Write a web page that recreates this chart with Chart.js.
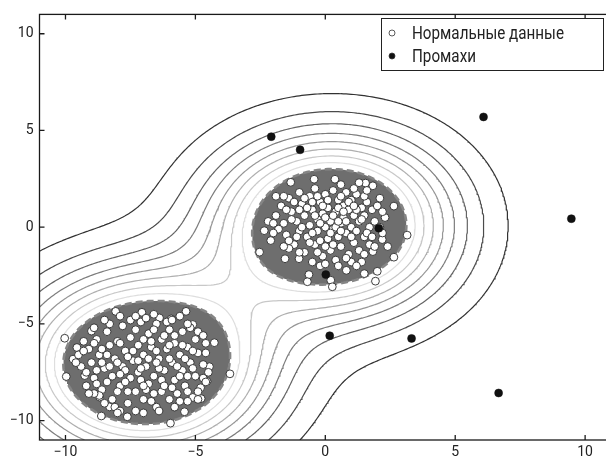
<!DOCTYPE html>
<html>
<head>
<meta charset="utf-8">
<script src="https://cdn.jsdelivr.net/npm/chart.js@4/dist/chart.umd.min.js"></script>
<style>
  html, body { margin: 0; padding: 0; background: #fff; overflow: hidden; }
</style>
</head>
<body>
<canvas id="chart" width="616" height="457"></canvas>
<script>
// ticks
const xTicks = [-10, -5, 0, 5, 10];
const yTicks = [-10, -5, 0, 5, 10];
const seriesLabels = ['Нормальные данные', 'Промахи'];

// normal points, upper cluster
const normalA = [
  [-2.53,-1.29],[-2.35,-0.18],[-1.33,2.32],[-0.43,2.48],[0.37,2.48],[1.55,2.28],[1.83,2.14],[2.64,1.09],
  [3.15,-0.41],[2.19,-0.64],[2.64,-1.55],[1.83,-1.26],[2.0,-2.28],[1.93,-2.79],[0.81,-2.23],[0.21,-2.74],
  [0.27,-3.08],[-0.63,-2.45],[-0.69,-2.82],[-1.55,-1.63],[-1.01,-1.63],[-2.1,-0.69],
  [-2.2,0.3],[-1.9,1.6],[2.3,0.5],[2.1,1.5],[1.4,-1.8],[-0.2,-2.0],
  [-1.9,0.6],[-1.7,1.1],[-1.6,0.2],[-1.5,-0.4],[-1.4,1.5],[-1.3,0.8],[-1.2,-0.9],[-1.1,0.3],
  [-1.0,1.8],[-1.0,-0.2],[-0.9,1.2],[-0.8,0.6],[-0.8,-1.3],[-0.7,-0.5],[-0.6,1.6],[-0.6,0.1],
  [-0.5,0.9],[-0.4,-0.9],[-0.4,2.0],[-0.3,0.4],[-0.3,-0.2],[-0.2,1.3],[-0.1,-1.5],[-0.1,0.7],
  [0.0,0.0],[0.0,1.7],[0.1,-0.6],[0.1,1.0],[0.2,0.3],[0.2,-1.2],[0.3,1.9],[0.3,-0.1],
  [0.4,0.8],[0.4,-1.7],[0.5,1.4],[0.5,-0.5],[0.6,0.2],[0.6,-1.0],[0.7,1.1],[0.7,0.5],
  [0.8,-0.3],[0.8,1.8],[0.9,-1.4],[0.9,0.9],[1.0,0.0],[1.0,1.4],[1.1,-0.8],[1.1,0.6],
  [1.2,1.7],[1.2,-0.2],[1.3,0.3],[1.3,-1.2],[1.4,1.0],[1.5,-0.5],[1.5,0.6],[1.6,1.3],
  [1.7,0.0],[1.7,-0.9],[1.8,0.9],[1.9,0.3],[-1.8,-0.1],[-1.5,0.9],[-1.2,1.3],[-1.1,-0.5],
  [-0.9,0.0],[-0.7,1.0],[-0.5,-0.3],[-0.5,1.3],[-0.2,0.2],[-0.2,-0.7],[0.0,0.5],[0.1,1.4],
  [0.3,0.6],[0.4,0.0],[0.5,1.0],[0.6,-0.2],[0.8,0.3],[0.9,1.3],[1.0,-0.5],[1.2,0.9],
  [-1.3,0.4],[-0.8,1.5],[-0.4,0.6],[0.2,-0.3],[0.7,0.8],[1.4,0.4],[-1.0,0.9],[-0.1,1.1],
  [0.5,0.3],[1.1,1.1],[-0.6,-0.8],[0.3,-0.9],[-1.6,1.6],[-0.3,1.6],[0.6,1.6],[1.5,1.6],
  [-1.4,-1.1],[0.0,-1.0],[1.6,-0.3],[-2.0,0.2],
  [0.6,2.2],[1.1,2.0],[1.6,1.9],[2.0,1.1],[2.1,0.0],[2.2,-0.3],[1.9,-1.0],[1.5,-1.4],
  [1.0,-1.8],[0.5,-2.0],[0.0,-1.9],[-0.5,-1.8],[-1.0,-1.3],[-1.4,-0.7],[-2.0,-0.3],[-1.6,-1.0],
  [-0.3,-1.3],[0.8,-1.6],[1.8,-0.5],[2.2,0.8],[1.3,2.3],[1.2,-2.0],[2.4,-1.0],[1.5,-2.4]
];

// normal points, lower-left cluster
const normalB = [
  [-10.03,-5.74],[-9.97,-7.72],[-3.67,-7.58],[-8.07,-4.35],[-7.06,-4.4],[-5.36,-4.35],[-4.27,-5.97],[-4.46,-7.21],
  [-4.55,-7.97],[-4.78,-8.86],[-5.42,-9.54],[-5.96,-10.13],[-7.62,-9.8],[-8.62,-9.76],[-9.56,-6.22],[-9.71,-6.82],
  [-9.26,-7.67],[-9.0,-5.37],[-8.69,-8.78],[-8.3,-9.29],[-6.38,-4.69],[-5.93,-4.74],[-5.1,-5.03],
  [-9.1,-6.3],[-9.0,-7.0],[-8.9,-7.8],[-8.8,-5.8],[-8.7,-6.6],[-8.6,-8.4],[-8.5,-7.3],[-8.4,-5.4],
  [-8.3,-6.1],[-8.2,-8.9],[-8.2,-7.7],[-8.1,-6.8],[-8.0,-5.9],[-7.9,-8.2],[-7.8,-7.2],[-7.8,-5.1],
  [-7.7,-6.4],[-7.6,-9.1],[-7.5,-7.8],[-7.5,-5.7],[-7.4,-6.9],[-7.3,-8.5],[-7.2,-6.1],[-7.2,-7.5],
  [-7.1,-4.9],[-7.0,-8.9],[-7.0,-6.6],[-6.9,-7.2],[-6.8,-5.5],[-6.8,-8.1],[-6.7,-6.2],[-6.6,-7.7],
  [-6.5,-9.3],[-6.5,-5.0],[-6.4,-6.8],[-6.3,-8.5],[-6.3,-5.8],[-6.2,-7.4],[-6.1,-6.3],[-6.0,-8.9],
  [-6.0,-5.3],[-5.9,-7.0],[-5.8,-7.9],[-5.8,-6.0],[-5.7,-8.6],[-5.6,-6.6],[-5.5,-5.4],[-5.5,-7.4],
  [-5.4,-8.2],[-5.3,-6.2],[-5.2,-7.0],[-5.1,-8.8],[-5.0,-5.8],[-5.0,-7.7],[-4.9,-6.5],[-4.8,-8.3],
  [-4.7,-7.1],[-4.6,-6.0],[-9.2,-7.5],[-8.9,-6.0],[-8.6,-7.0],[-8.4,-8.0],[-8.0,-7.0],[-7.9,-6.0],
  [-7.6,-8.5],[-7.4,-6.4],[-7.1,-7.9],[-7.0,-5.8],[-6.8,-6.8],[-6.6,-8.6],[-6.4,-7.3],[-6.2,-5.6],
  [-6.0,-6.8],[-5.9,-8.3],[-5.7,-7.2],[-5.5,-6.1],[-5.3,-7.7],[-5.1,-6.4],[-8.7,-8.7],[-8.1,-9.3],
  [-7.3,-9.5],[-6.7,-9.0],[-8.3,-5.0],[-7.5,-4.8],[-6.1,-4.9],[-5.2,-5.2],[-4.9,-8.9],[-4.7,-7.8],
  [-7.7,-7.4],[-7.2,-6.9],[-6.5,-6.4],[-6.3,-7.9],[-7.9,-7.6],[-8.8,-7.4],[-6.9,-8.4],[-5.6,-9.0],
  [-9.5,-6.6],[-9.4,-7.2],[-9.3,-5.9],[-9.2,-8.2],[-8.9,-5.2],[-8.9,-8.6],[-8.5,-4.8],[-8.5,-9.1],
  [-7.9,-4.6],[-7.9,-9.5],[-7.3,-4.6],[-7.0,-9.6],[-6.6,-4.5],[-6.4,-9.5],[-5.9,-4.8],[-5.8,-9.3],
  [-5.3,-5.0],[-5.3,-9.0],[-4.9,-5.4],[-4.9,-8.5],[-4.6,-6.5],[-4.5,-7.5],[-4.6,-8.0],[-9.6,-7.0],
  [-9.3,-6.4],[-9.1,-8.6],[-8.0,-9.6],[-6.9,-4.7],[-5.6,-4.6],[-4.7,-5.6],
  [-8.6,-6.3],[-8.3,-7.2],[-8.0,-8.5],[-7.6,-6.7],[-7.3,-5.3],[-7.1,-7.3],[-6.7,-5.9],[-6.5,-7.0],
  [-6.2,-8.2],[-6.0,-6.1],[-5.6,-7.7],[-5.4,-6.8],[-5.1,-7.3],[-8.8,-8.1],[-8.4,-6.6],[-7.7,-8.0],
  [-7.0,-8.2],[-6.6,-5.3],[-5.8,-5.6],[-5.3,-8.5]
];

// outliers
const outliers = [
  [-2.08,4.68],[-0.97,4.0],[6.09,5.7],[9.47,0.44],[2.06,-0.05],
  [0.02,-2.45],[0.17,-5.61],[3.32,-5.75],[6.67,-8.57]
];

// decision surface settings
const kernelGamma = 0.07;
const boundaryFrac = 0.60;
const levelCount = 9;
const lineGrays = [50, 75, 100, 125, 150, 175, 200, 222];

// evaluate kernel sum on a grid
const lo = -11, step = 0.1, n = 221;
const normal = normalA.concat(normalB);
const Z = new Float64Array(n * n);
let zmax = 0;
for (let j = 0; j < n; j++) {
  const y = lo + j * step;
  for (let i = 0; i < n; i++) {
    const x = lo + i * step;
    let s = 0;
    for (const p of normal) {
      const dx = x - p[0], dy = y - p[1];
      s += Math.exp(-kernelGamma * (dx * dx + dy * dy));
    }
    Z[j * n + i] = s;
    if (s > zmax) zmax = s;
  }
}

// marching squares, joined into polylines
function contour(L) {
  const pts = {}, adj = {};
  function edge(t, i, j) {
    const k = t + i + '_' + j;
    if (!pts[k]) {
      const xa = lo + i * step, ya = lo + j * step;
      const a = Z[j * n + i];
      const b = t === 'h' ? Z[j * n + i + 1] : Z[(j + 1) * n + i];
      const f = (L - a) / (b - a);
      pts[k] = t === 'h' ? { x: xa + step * f, y: ya } : { x: xa, y: ya + step * f };
    }
    return k;
  }
  function seg(k1, k2) {
    (adj[k1] = adj[k1] || []).push(k2);
    (adj[k2] = adj[k2] || []).push(k1);
  }
  for (let j = 0; j < n - 1; j++) {
    for (let i = 0; i < n - 1; i++) {
      const v0 = Z[j * n + i], v1 = Z[j * n + i + 1], v2 = Z[(j + 1) * n + i + 1], v3 = Z[(j + 1) * n + i];
      const c = (v0 > L ? 1 : 0) | (v1 > L ? 2 : 0) | (v2 > L ? 4 : 0) | (v3 > L ? 8 : 0);
      if (c === 0 || c === 15) continue;
      const e0 = () => edge('h', i, j), e1 = () => edge('v', i + 1, j);
      const e2 = () => edge('h', i, j + 1), e3 = () => edge('v', i, j);
      const mid = (v0 + v1 + v2 + v3) / 4 > L;
      switch (c) {
        case 1: case 14: seg(e3(), e0()); break;
        case 2: case 13: seg(e0(), e1()); break;
        case 3: case 12: seg(e3(), e1()); break;
        case 4: case 11: seg(e1(), e2()); break;
        case 6: case 9: seg(e0(), e2()); break;
        case 7: case 8: seg(e3(), e2()); break;
        case 5: if (mid) { seg(e0(), e1()); seg(e2(), e3()); } else { seg(e3(), e0()); seg(e1(), e2()); } break;
        case 10: if (mid) { seg(e3(), e0()); seg(e1(), e2()); } else { seg(e0(), e1()); seg(e2(), e3()); } break;
      }
    }
  }
  const used = new Set(), lines = [];
  function walk(s) {
    const line = [pts[s]];
    used.add(s);
    let cur = s;
    for (;;) {
      const nx = adj[cur].find(q => !used.has(q));
      if (nx === undefined) {
        if (line.length > 2 && adj[cur].includes(s)) line.push(pts[s]);
        break;
      }
      used.add(nx);
      line.push(pts[nx]);
      cur = nx;
    }
    lines.push(line);
  }
  for (const k in adj) if (adj[k].length === 1 && !used.has(k)) walk(k);
  for (const k in adj) if (!used.has(k)) walk(k);
  return lines;
}

const threshold = boundaryFrac * zmax;
const datasets = [];

contour(threshold).forEach(line => {
  datasets.push({
    data: line, showLine: true, fill: 'shape', backgroundColor: '#6e6e6e',
    borderWidth: 0, pointRadius: 0, order: 30
  });
  datasets.push({
    data: line, showLine: true, fill: false, borderColor: '#858585', borderWidth: 2.6,
    borderDash: [7, 4], pointRadius: 0, order: 10
  });
});

for (let k = 1; k < levelCount; k++) {
  const g = lineGrays[k - 1];
  contour(threshold * k / levelCount).forEach(line => {
    datasets.push({
      data: line, showLine: true, fill: false, borderColor: `rgb(${g},${g},${g})`,
      borderWidth: 1.2, pointRadius: 0, order: 20
    });
  });
}

datasets.push({
  label: seriesLabels[0],
  data: normal.map(p => ({ x: p[0], y: p[1] })),
  pointRadius: 3.9, pointBackgroundColor: '#fff', pointBorderColor: '#2a2a2a', pointBorderWidth: 0.9,
  order: 2
});
datasets.push({
  label: seriesLabels[1],
  data: outliers.map(p => ({ x: p[0], y: p[1] })),
  pointRadius: 4, pointBackgroundColor: '#111', pointBorderColor: '#111', pointBorderWidth: 0.5,
  order: 1
});

const minus = v => String(v).replace('-', '\u2212');

const frame = {
  id: 'frame',
  afterDraw(chart) {
    const { ctx, chartArea: a, scales: { x, y } } = chart;
    ctx.save();
    ctx.strokeStyle = '#1a1a1a';
    ctx.lineWidth = 1.3;
    ctx.strokeRect(a.left, a.top, a.right - a.left, a.bottom - a.top);
    ctx.beginPath();
    xTicks.forEach(v => {
      const px = x.getPixelForValue(v);
      ctx.moveTo(px, a.bottom); ctx.lineTo(px, a.bottom - 5);
      ctx.moveTo(px, a.top); ctx.lineTo(px, a.top + 5);
    });
    yTicks.forEach(v => {
      const py = y.getPixelForValue(v);
      ctx.moveTo(a.left, py); ctx.lineTo(a.left + 5, py);
      ctx.moveTo(a.right, py); ctx.lineTo(a.right - 5, py);
    });
    ctx.stroke();

    // legend
    ctx.fillStyle = '#fff';
    ctx.fillRect(381, 18, 223, 53);
    ctx.lineWidth = 1;
    ctx.strokeStyle = '#222';
    ctx.strokeRect(381.5, 18.5, 222, 52);
    const rows = [33, 56];
    ctx.font = '19px Roboto';
    const w = ctx.measureText(seriesLabels[0]).width;
    const sx = 152 / w;
    rows.forEach((ry, i) => {
      ctx.beginPath();
      ctx.arc(392, ry, 3, 0, Math.PI * 2);
      ctx.fillStyle = i === 0 ? '#fff' : '#111';
      ctx.fill();
      ctx.lineWidth = 0.8;
      ctx.strokeStyle = '#333';
      ctx.stroke();
      ctx.save();
      ctx.translate(412, ry);
      ctx.scale(sx, 1);
      ctx.fillStyle = '#222';
      ctx.textBaseline = 'middle';
      ctx.fillText(seriesLabels[i], 0, 1);
      ctx.restore();
    });
    ctx.restore();
  }
};

Chart.defaults.font.family = 'Roboto, "Open Sans", sans-serif';
Chart.defaults.font.size = 14;
Chart.defaults.color = '#222';

new Chart(document.getElementById('chart'), {
  type: 'scatter',
  data: { datasets: datasets },
  options: {
    responsive: false,
    animation: false,
    layout: { padding: { top: 9, right: 4, left: 0, bottom: 0 } },
    plugins: { legend: { display: false }, tooltip: { enabled: false } },
    elements: { line: { tension: 0 } },
    scales: {
      x: {
        min: -11, max: 11,
        afterBuildTicks: s => { s.ticks = xTicks.map(v => ({ value: v })); },
        afterFit: s => { s.height = 17; },
        grid: { display: false, drawTicks: false },
        border: { display: false },
        ticks: { padding: 4, callback: minus, maxRotation: 0 }
      },
      y: {
        min: -11, max: 11,
        afterBuildTicks: s => { s.ticks = yTicks.map(v => ({ value: v })); },
        afterFit: s => { s.width = 39.5; },
        grid: { display: false, drawTicks: false },
        border: { display: false },
        ticks: { padding: 6, callback: minus }
      }
    }
  },
  plugins: [frame]
});
</script>
</body>
</html>
